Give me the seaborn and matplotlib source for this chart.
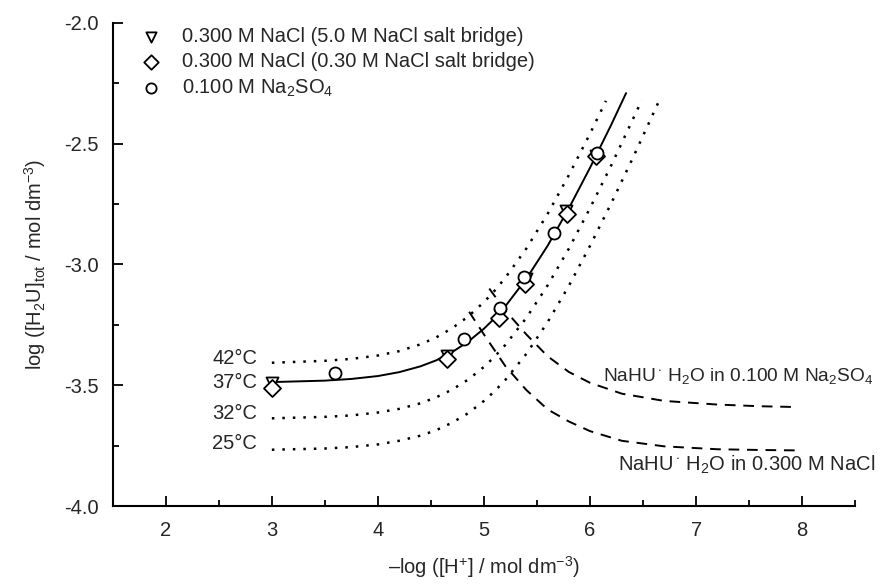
import numpy as np
import pandas as pd
import seaborn as sns
import matplotlib.pyplot as plt
from matplotlib.ticker import MultipleLocator

# measured points
tri_x = [3.00, 4.65, 5.15, 5.40, 5.77, 6.06]
tri_y = [-3.49, -3.38, -3.21, -3.06, -2.78, -2.55]
dia_x = [3.00, 4.65, 5.14, 5.39, 5.78, 6.06]
dia_y = [-3.51, -3.39, -3.22, -3.08, -2.79, -2.55]
cir_x = [3.60, 4.81, 5.15, 5.38, 5.66, 6.07]
cir_y = [-3.45, -3.31, -3.18, -3.05, -2.87, -2.54]

# solubility curves
ph_grid = [3.0, 3.5, 3.75, 4.0, 4.2, 4.4, 4.55, 4.7, 4.85, 5.0, 5.1, 5.2, 5.4,
           5.6, 5.8, 6.0, 6.2]
t37_x = ph_grid + [6.34]
t37_y = [-3.487, -3.481, -3.474, -3.462, -3.446, -3.422, -3.397, -3.363, -3.320,
         -3.266, -3.223, -3.174, -3.059, -2.923, -2.768, -2.600, -2.422, -2.291]
t42_x = ph_grid[:-1] + [6.15]
t42_y = [-3.407, -3.399, -3.391, -3.377, -3.359, -3.331, -3.302, -3.264, -3.216,
         -3.156, -3.109, -3.056, -2.934, -2.791, -2.631, -2.459, -2.323]
t32_x = ph_grid + [6.49]
t32_y = [-3.637, -3.631, -3.625, -3.613, -3.598, -3.575, -3.550, -3.518, -3.477,
         -3.424, -3.382, -3.334, -3.221, -3.087, -2.935, -2.767, -2.590, -2.319]
t25_x = ph_grid + [6.4, 6.67]
t25_y = [-3.767, -3.762, -3.756, -3.745, -3.730, -3.709, -3.686, -3.655, -3.616,
         -3.565, -3.525, -3.479, -3.370, -3.239, -3.089, -2.923, -2.747, -2.563, -2.305]

# NaHU.H2O curves
so4_x = [5.05, 5.2, 5.4, 5.6, 5.8, 6.0, 6.3, 6.7, 7.2, 7.6, 7.92]
so4_y = [-3.10, -3.19, -3.29, -3.38, -3.445, -3.49, -3.535, -3.565, -3.58, -3.587, -3.59]
nacl_x = [4.86, 5.0, 5.2, 5.4, 5.6, 5.8, 6.0, 6.3, 6.7, 7.2, 7.6, 8.0]
nacl_y = [-3.196, -3.29, -3.42, -3.52, -3.60, -3.65, -3.69, -3.73, -3.753, -3.765, -3.768, -3.77]

temp_labels = ['42°C', '37°C', '32°C', '25°C']
temp_label_y = [-3.39, -3.49, -3.615, -3.74]

sns.set_style('ticks')
plt.rcParams['font.family'] = ['Liberation Sans', 'DejaVu Sans']
plt.rcParams['mathtext.fontset'] = 'custom'
plt.rcParams['mathtext.rm'] = 'Liberation Sans'
plt.rcParams['mathtext.it'] = 'Liberation Sans:italic'
plt.rcParams['axes.unicode_minus'] = False

fs = 14.5
fig = plt.figure(figsize=(8.88, 5.85), dpi=100)
ax = fig.add_axes([0.127, 0.135, 0.836, 0.826])

dot = (0, (1, 3.2))
dash = (0, (5.5, 4))
for xs, ys, ls, lw in [(t42_x, t42_y, dot, 1.8), (t32_x, t32_y, dot, 1.8),
                       (t25_x, t25_y, dot, 1.8), (t37_x, t37_y, '-', 1.4),
                       (so4_x, so4_y, dash, 1.4), (nacl_x, nacl_y, dash, 1.4)]:
    sns.lineplot(x=xs, y=ys, color='black', linestyle=ls, linewidth=lw,
                 estimator=None, sort=False, legend=False, ax=ax)

mk = dict(s=75, facecolor='white', edgecolor='black', linewidth=1.3, zorder=3)
sns.scatterplot(x=tri_x, y=tri_y, marker='v', label='0.300 M NaCl (5.0 M NaCl salt bridge)', ax=ax, **mk)
sns.scatterplot(x=dia_x, y=dia_y, marker='D', label='0.300 M NaCl (0.30 M NaCl salt bridge)', ax=ax, **mk)
sns.scatterplot(x=cir_x, y=cir_y, marker='o', label='0.100 M Na$_2$SO$_4$', ax=ax, **mk)

leg = ax.legend(loc='upper left', bbox_to_anchor=(0.0, 1.028), frameon=False,
                fontsize=fs, handletextpad=0.55, labelspacing=0.3, markerscale=0.85)

for lab, yy in zip(temp_labels, temp_label_y):
    ax.text(2.86, yy, lab, ha='right', va='center', fontsize=fs)

ax.text(6.12, -3.46, 'NaHU$\\,^{\\cdot}$ H$_2$O in 0.100 M Na$_2$SO$_4$', fontsize=13.8, va='center')
ax.text(6.26, -3.83, 'NaHU$\\,^{\\cdot}$ H$_2$O in 0.300 M NaCl', fontsize=fs, va='center')

ax.set_xlim(1.5, 8.5)
ax.set_ylim(-4.0, -2.0)
ax.set_xticks([2, 3, 4, 5, 6, 7, 8])
ax.set_yticks([-4.0, -3.5, -3.0, -2.5, -2.0])
ax.set_yticklabels(['-4.0', '-3.5', '-3.0', '-2.5', '-2.0'])
ax.xaxis.set_minor_locator(MultipleLocator(0.5))
ax.yaxis.set_minor_locator(MultipleLocator(0.25))
ax.tick_params(which='both', direction='in', width=1.3, labelsize=fs, pad=10, color='black')
ax.tick_params(axis='x', pad=11)
ax.tick_params(which='major', length=7)
ax.tick_params(which='minor', length=4)
for side in ['top', 'right']:
    ax.spines[side].set_visible(False)
for side in ['left', 'bottom']:
    ax.spines[side].set_linewidth(1.5)
    ax.spines[side].set_color('black')

ax.set_xlabel('–log ([H$^{+}$] / mol dm$^{-3}$)', fontsize=fs, labelpad=10)
ax.set_ylabel('log ([H$_2$U]$_{\\mathrm{tot}}$ / mol dm$^{-3}$)', fontsize=fs, labelpad=12)

fig.savefig('out.png', dpi=100)
